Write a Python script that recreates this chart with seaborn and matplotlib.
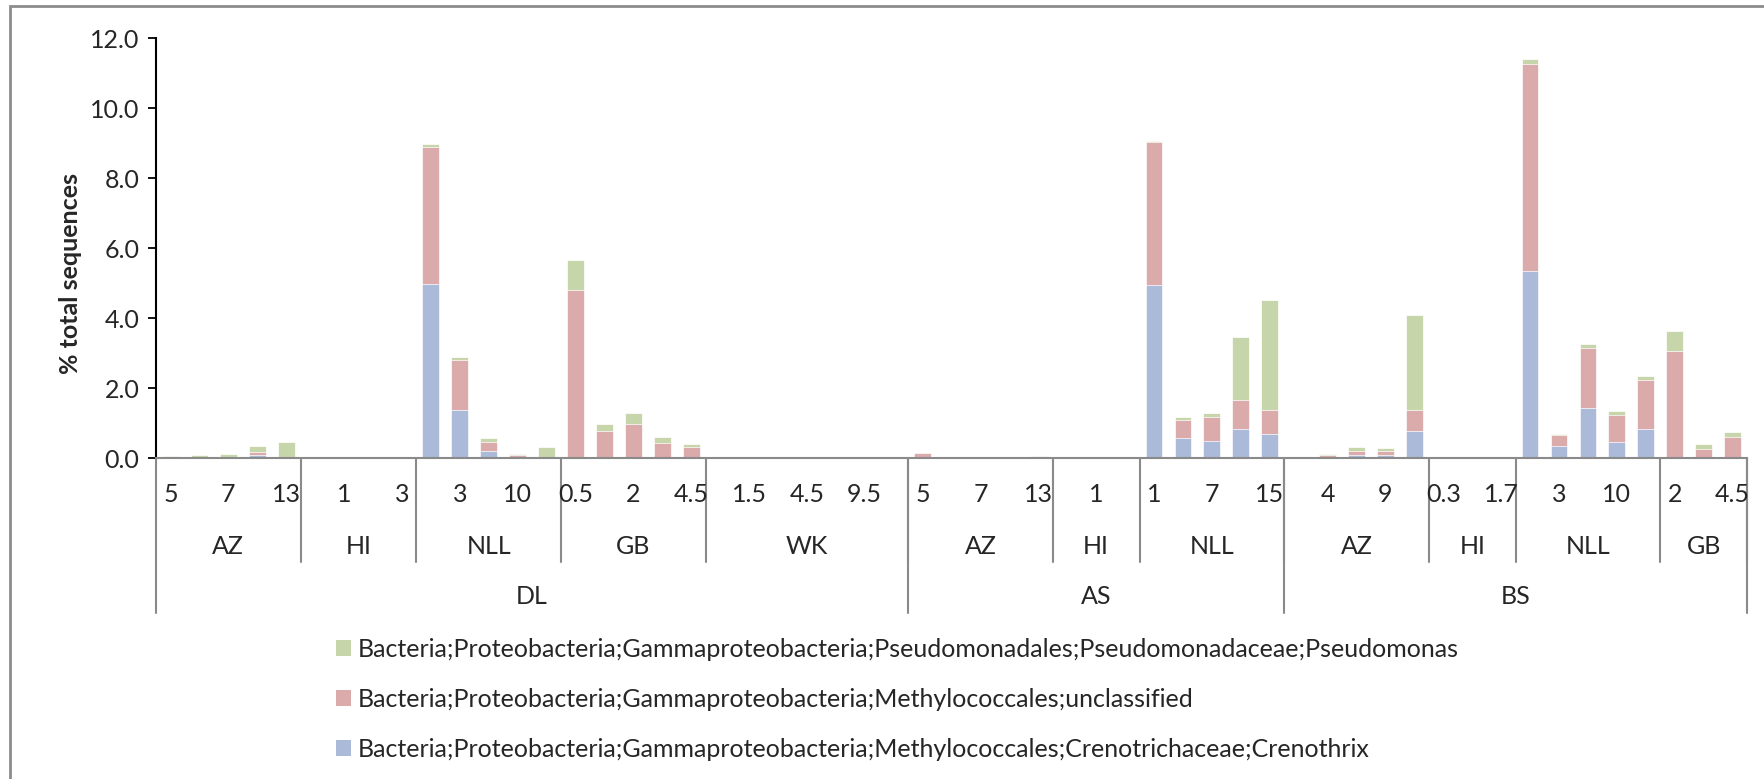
import matplotlib
matplotlib.use("Agg")
import matplotlib.pyplot as plt
from matplotlib.patches import Patch, Rectangle
import numpy as np
import pandas as pd
import seaborn as sns

# ---- data -------------------------------------------------------------
# (site, zone, number of samples) in plotting order
sites = ["DL", "AS", "BS"]
zones = [("DL", "AZ", 5), ("DL", "HI", 4), ("DL", "NLL", 5), ("DL", "GB", 5), ("DL", "WK", 7),
         ("AS", "AZ", 5), ("AS", "HI", 3), ("AS", "NLL", 5),
         ("BS", "AZ", 5), ("BS", "HI", 3), ("BS", "NLL", 5), ("BS", "GB", 3)]

# depth tick labels (every second label is shown)
depth_labels = ["5", "", "7", "", "13",
                "", "1", "", "3",
                "", "3", "", "10", "",
                "0.5", "", "2", "", "4.5",
                "", "1.5", "", "4.5", "", "9.5", "",
                "5", "", "7", "", "13",
                "", "1", "",
                "1", "", "7", "", "15",
                "", "4", "", "9", "",
                "0.3", "", "1.7",
                "", "3", "", "10", "",
                "2", "", "4.5"]

crenothrix = [0, 0, 0, 0.08, 0,
              0, 0, 0, 0,
              4.97, 1.36, 0.20, 0.02, 0,
              0, 0, 0, 0, 0,
              0, 0, 0, 0, 0, 0, 0,
              0, 0, 0, 0, 0,
              0, 0, 0,
              4.94, 0.58, 0.49, 0.83, 0.70,
              0, 0.04, 0.08, 0.08, 0.76,
              0, 0, 0,
              5.34, 0.34, 1.42, 0.45, 0.83,
              0, 0, 0]

methylococcales_uncl = [0, 0, 0, 0.08, 0,
                        0, 0, 0, 0,
                        3.91, 1.43, 0.26, 0.06, 0,
                        4.79, 0.76, 0.98, 0.44, 0.32,
                        0, 0, 0, 0, 0, 0, 0,
                        0.14, 0, 0, 0, 0,
                        0, 0, 0,
                        4.09, 0.51, 0.69, 0.83, 0.67,
                        0, 0.04, 0.13, 0.13, 0.62,
                        0, 0, 0,
                        5.93, 0.32, 1.71, 0.79, 1.39,
                        3.06, 0.27, 0.61]

pseudomonas = [0.07, 0.08, 0.12, 0.19, 0.45,
               0, 0, 0, 0,
               0.10, 0.10, 0.12, 0.04, 0.32,
               0.86, 0.21, 0.31, 0.17, 0.08,
               0, 0, 0, 0, 0, 0, 0,
               0.01, 0.04, 0.04, 0.02, 0.05,
               0, 0, 0,
               0.04, 0.07, 0.11, 1.79, 3.14,
               0.02, 0.04, 0.11, 0.08, 2.71,
               0, 0, 0,
               0.12, 0.04, 0.12, 0.09, 0.13,
               0.57, 0.13, 0.14]

series_names = [
    "Bacteria;Proteobacteria;Gammaproteobacteria;Pseudomonadales;Pseudomonadaceae;Pseudomonas",
    "Bacteria;Proteobacteria;Gammaproteobacteria;Methylococcales;unclassified",
    "Bacteria;Proteobacteria;Gammaproteobacteria;Methylococcales;Crenotrichaceae;Crenothrix",
]
yticks = [0, 2, 4, 6, 8, 10, 12]

# ---- style ------------------------------------------------------------
BLUE = "#AABAD8"
PINK = "#DBAAAA"
GREEN = "#C6D6AA"
SEP = "#8A8A8A"

sns.set_style("white")
plt.rcParams["font.family"] = ["Lato", "DejaVu Sans"]
FS = 18

W, H = 1764, 779
fig = plt.figure(figsize=(W / 100, H / 100), dpi=100)
ax = fig.add_axes([156 / W, 1 - 458 / H, (1747 - 156) / W, (458 - 38) / H])

n = len(depth_labels)
df = pd.DataFrame({
    "pos": np.arange(n),
    "blue": crenothrix,
    "pink": methylococcales_uncl,
    "green": pseudomonas,
})
df["top_pink"] = df["blue"] + df["pink"]
df["top_green"] = df["top_pink"] + df["green"]

# stacked bars: draw cumulative totals from the top segment down
for col, color in [("top_green", GREEN), ("top_pink", PINK), ("blue", BLUE)]:
    sns.barplot(data=df, x="pos", y=col, color=color, saturation=1, width=0.58,
                errorbar=None, edgecolor="white", linewidth=0.5, ax=ax)

ax.set_xlim(-0.5, n - 0.5)
ax.set_ylim(0, 12)
ax.set_yticks(yticks)
ax.set_yticklabels([f"{v:.1f}" for v in yticks], fontsize=FS)
ax.set_xticks([])
ax.set_xlabel("")
ax.set_ylabel("")
ax.tick_params(axis="y", direction="out", length=6, width=1.3, color="black", pad=6, left=True)
for s in ["top", "right"]:
    ax.spines[s].set_visible(False)
ax.spines["left"].set_color("black")
ax.spines["left"].set_linewidth(1.5)
ax.spines["bottom"].set_color(SEP)
ax.spines["bottom"].set_linewidth(1.5)

ax.text(-86 / (1747 - 156), 0.5 - 25 / 420, "% total sequences", transform=ax.transAxes,
        rotation=90, ha="center", va="center", fontsize=FS, fontweight="bold")

# ---- multi-level category axis ---------------------------------------
tr = ax.get_xaxis_transform()
axh = 420.0
def yfrac(py):
    return (458 - py) / axh

for i, lab in enumerate(depth_labels):
    if lab:
        ax.text(i, yfrac(494), lab, transform=tr, ha="center", va="center",
                fontsize=FS, clip_on=False)

start = 0
site_spans = {}
for site, zone, cnt in zones:
    end = start + cnt
    ax.text((start + end - 1) / 2, yfrac(547), zone, transform=tr, ha="center",
            va="center", fontsize=FS, clip_on=False)
    ax.plot([end - 0.5, end - 0.5], [0, yfrac(562)], transform=tr, color=SEP,
            lw=1.5, clip_on=False)
    lo, hi = site_spans.get(site, (start, end))
    site_spans[site] = (min(lo, start), max(hi, end))
    start = end

ax.plot([-0.5, -0.5], [0, yfrac(613)], transform=tr, color=SEP, lw=1.5, clip_on=False)
for site in sites:
    lo, hi = site_spans[site]
    ax.text((lo + hi - 1) / 2, yfrac(597), site, transform=tr, ha="center",
            va="center", fontsize=FS, clip_on=False)
    ax.plot([hi - 0.5, hi - 0.5], [0, yfrac(613)], transform=tr, color=SEP,
            lw=1.5, clip_on=False)

# ---- legend -------------------------------------------------------------
handles = [Patch(facecolor=c, edgecolor="none") for c in (GREEN, PINK, BLUE)]
fig.legend(handles, series_names, loc="upper left",
           bbox_to_anchor=(336 / W, 1 - 638 / H), frameon=False, fontsize=FS,
           handlelength=0.58, handleheight=0.58, handletextpad=0.3,
           labelspacing=1.08, borderpad=0, borderaxespad=0)

# chart-area border
fig.patches.append(Rectangle((10 / W, -0.1), 1.2, 1 - 6 / H + 0.1,
                             transform=fig.transFigure, fill=False,
                             edgecolor="#8C8C8C", lw=2))

fig.savefig("out.png", dpi=100)
